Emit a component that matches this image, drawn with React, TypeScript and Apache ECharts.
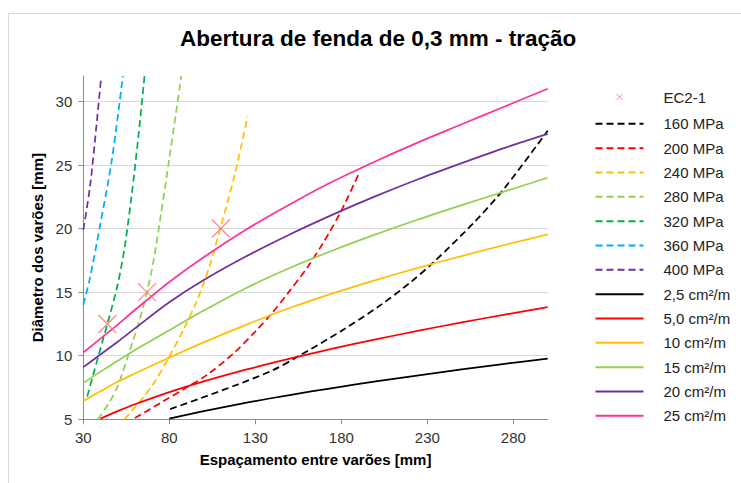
import React, { useEffect, useRef } from "react";
import * as echarts from "echarts";

const FONT = "'Liberation Sans', Arial, sans-serif";
const TITLE = "Abertura de fenda de 0,3 mm - tração";
const X_NAME = "Espaçamento entre varões [mm]";
const Y_NAME = "Diâmetro dos varões [mm]";

const X_MIN = 30;
const X_MAX = 300;
const X_STEP = 50;
const Y_MIN = 5;
const Y_MAX = 32;
const Y_STEP = 5;

// EC2-1 reference points
const ec2X = [44, 67, 110];
const ec2Y = [12.5, 15, 20];

// Stress curves (dashed)
const s160X = [80.5, 98, 120, 140, 155, 180, 203, 220, 234, 258, 275, 300];
const s160Y = [5.8, 6.65, 7.75, 8.85, 9.95, 11.95, 14.0, 15.75, 17.4, 20.6, 23.2, 27.7];
const s200X = [60, 75, 90, 102, 117.5, 130, 140, 150, 160, 170, 180, 190.5];
const s200Y = [5.1, 6.3, 7.5, 8.5, 10.2, 11.9, 13.4, 15.1, 16.9, 19.0, 21.4, 24.4];
const s240X = [54, 60, 66, 72, 79.5, 88, 96, 104, 110, 118, 125.5];
const s240Y = [5.0, 5.95, 6.9, 8.05, 9.8, 12.0, 14.3, 17.3, 20.2, 24.2, 28.8];
const s280X = [38.5, 45, 50, 56, 62, 67, 71, 75, 80, 87];
const s280Y = [5.0, 6.3, 7.6, 10.0, 12.5, 15.0, 17.6, 21.0, 25.5, 32.0];
const s320X = [32.3, 38.6, 44, 50, 54, 58, 62, 65.6];
const s320Y = [6.8, 9.9, 12.5, 15.6, 18.5, 22.5, 27.2, 32.0];
const s360X = [30, 33.7, 39.7, 46.6, 53];
const s360Y = [14.0, 16.0, 20.2, 25.4, 32.0];
const s400X = [30, 33.9, 37.8, 40.3];
const s400Y = [19.9, 23.3, 28.3, 31.8];

// Reinforcement area curves (solid)
const spacingFull = [30, 40, 50, 60, 80, 100, 125, 150, 175, 200, 225, 250, 275, 300];
const a25X = [80, 100, 125, 150, 175, 200, 225, 250, 275, 300];
const a25Y = [5.05, 5.64, 6.31, 6.91, 7.46, 7.98, 8.46, 8.92, 9.36, 9.77];
const a50X = [40, 50, 60, 80, 100, 125, 150, 175, 200, 225, 250, 275, 300];
const a50Y = [5.05, 5.64, 6.18, 7.14, 7.98, 8.92, 9.77, 10.56, 11.28, 11.97, 12.62, 13.23, 13.82];
const a10Y = [6.45, 7.2, 7.95, 8.6, 9.85, 11.05, 12.45, 13.75, 14.9, 15.95, 16.93, 17.84, 18.71, 19.54];
const a15Y = [7.85, 8.75, 9.6, 10.45, 12.0, 13.55, 15.35, 16.9, 18.28, 19.54, 20.73, 21.85, 22.92, 24.0];
const a20Y = [9.1, 10.1, 11.1, 12.15, 14.2, 15.95, 17.84, 19.54, 21.1, 22.55, 23.9, 25.15, 26.35, 27.45];
const a25pY = [10.25, 11.35, 12.45, 13.6, 15.8, 17.75, 19.95, 21.9, 23.7, 25.3, 26.8, 28.2, 29.6, 31.0];

const zip = (xs: number[], ys: number[]) => xs.map((x, i) => [x, ys[i]]);

const dashed = [
  { name: "160 MPa", color: "#000000", x: s160X, y: s160Y },
  { name: "200 MPa", color: "#ff0000", x: s200X, y: s200Y },
  { name: "240 MPa", color: "#ffc000", x: s240X, y: s240Y },
  { name: "280 MPa", color: "#92d050", x: s280X, y: s280Y },
  { name: "320 MPa", color: "#00b050", x: s320X, y: s320Y },
  { name: "360 MPa", color: "#00b0f0", x: s360X, y: s360Y },
  { name: "400 MPa", color: "#7030a0", x: s400X, y: s400Y },
];

const solid = [
  { name: "2,5 cm²/m", color: "#000000", x: a25X, y: a25Y },
  { name: "5,0 cm²/m", color: "#ff0000", x: a50X, y: a50Y },
  { name: "10 cm²/m", color: "#ffc000", x: spacingFull, y: a10Y },
  { name: "15 cm²/m", color: "#92d050", x: spacingFull, y: a15Y },
  { name: "20 cm²/m", color: "#7030a0", x: spacingFull, y: a20Y },
  { name: "25 cm²/m", color: "#ff3399", x: spacingFull, y: a25pY },
];

const EC2_NAME = "EC2-1";
const EC2_COLOR = "#f4716c";

export default function App() {
  const ref = useRef<HTMLDivElement>(null);
  useEffect(() => {
    document.body.style.margin = "0";
    const chart = echarts.init(ref.current!, null, { renderer: "svg" });
    const series: any[] = [];
    dashed.forEach((d) =>
      series.push({
        name: d.name,
        type: "line",
        data: zip(d.x, d.y),
        smooth: 0.3,
        symbol: "none",
        lineStyle: { color: d.color, width: 1.75, type: [7, 4] },
        itemStyle: { color: d.color },
      })
    );
    solid.forEach((d) =>
      series.push({
        name: d.name,
        type: "line",
        data: zip(d.x, d.y),
        smooth: 0.3,
        symbol: "none",
        lineStyle: { color: d.color, width: 1.75, type: "solid" },
        itemStyle: { color: d.color },
      })
    );
    series.push({
      name: EC2_NAME,
      type: "scatter",
      data: zip(ec2X, ec2Y),
      symbol: "path://M0,0L10,10M10,0L0,10",
      symbolSize: 18,
      itemStyle: { color: "none", borderColor: EC2_COLOR, borderWidth: 1.3 },
      z: 5,
    });

    const legendData: any[] = [
      {
        name: EC2_NAME,
        icon: "path://M-21,-4.5L-21,-4.5M27,10.5L27,10.5M0,0L6,6M6,0L0,6",
        itemStyle: { color: "none", borderColor: EC2_COLOR, borderWidth: 1 },
      },
      ...dashed.map((d) => ({ name: d.name, itemStyle: { opacity: 0 } })),
      ...solid.map((d) => ({ name: d.name, itemStyle: { opacity: 0 } })),
    ];

    chart.setOption({
      animation: false,
      backgroundColor: "#ffffff",
      textStyle: { fontFamily: FONT },
      title: {
        text: TITLE,
        left: 180,
        top: 27,
        padding: 0,
        textStyle: { fontFamily: FONT, fontSize: 22.5, fontWeight: "bold", color: "#000" },
      },
      graphic: [
        {
          type: "rect",
          silent: true,
          shape: { x: 8.5, y: 13.5, width: 800, height: 600 },
          style: { fill: "none", stroke: "#d9d9d9", lineWidth: 1 },
        },
      ],
      legend: {
        orient: "vertical",
        left: 593,
        top: 87,
        padding: 0,
        itemWidth: 48,
        itemHeight: 15,
        itemGap: 9.33,
        textStyle: { fontFamily: FONT, fontSize: 15, color: "#222", padding: [0, 0, 0, 15] },
        data: legendData,
      },
      grid: { left: 83.3, right: 193.3, top: 76, bottom: 63.7, containLabel: false },
      xAxis: {
        type: "value",
        min: X_MIN,
        max: X_MAX,
        interval: X_STEP,
        name: X_NAME,
        nameLocation: "middle",
        nameGap: 33,
        nameTextStyle: { fontFamily: FONT, fontSize: 15, fontWeight: "bold", color: "#000" },
        axisLine: { show: true, lineStyle: { color: "#8c8c8c", width: 1 } },
        axisTick: { show: true, length: 5, lineStyle: { color: "#8c8c8c" } },
        axisLabel: { fontFamily: FONT, fontSize: 15, color: "#333", margin: 11, showMaxLabel: false },
        splitLine: { show: false },
      },
      yAxis: {
        type: "value",
        min: Y_MIN,
        max: Y_MAX,
        interval: Y_STEP,
        name: Y_NAME,
        nameLocation: "middle",
        nameGap: 35,
        nameTextStyle: { fontFamily: FONT, fontSize: 15, fontWeight: "bold", color: "#000" },
        axisLine: { show: true, lineStyle: { color: "#8c8c8c", width: 1 } },
        axisTick: { show: true, length: 5, lineStyle: { color: "#8c8c8c" } },
        axisLabel: { fontFamily: FONT, fontSize: 15, color: "#333", margin: 11, showMaxLabel: false },
        splitLine: {
          show: true,
          showMinLine: false,
          showMaxLine: false,
          lineStyle: { color: "#d9d9d9", width: 1 },
        },
      },
      series,
    });
    return () => chart.dispose();
  }, []);
  return <div ref={ref} style={{ width: 741, height: 483 }} />;
}
